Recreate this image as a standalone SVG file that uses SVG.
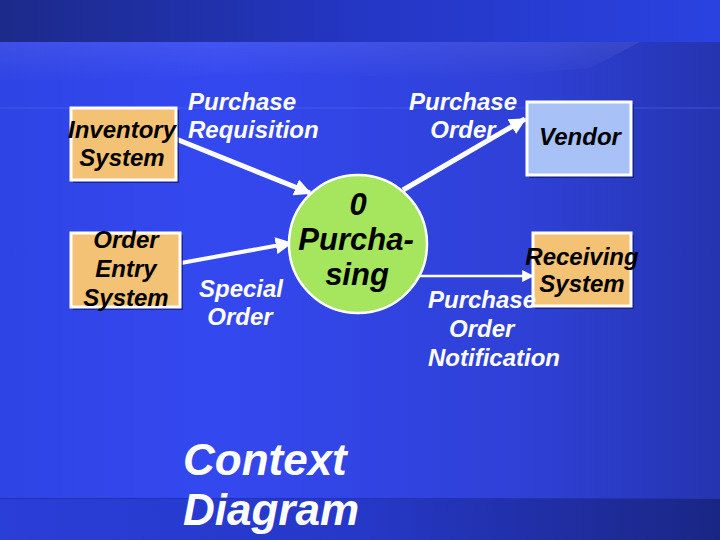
<svg xmlns="http://www.w3.org/2000/svg" width="720" height="540" viewBox="0 0 720 540">
<defs>
<linearGradient id="gTop" x1="0" y1="0" x2="1" y2="0">
<stop offset="0" stop-color="#1c2a8a"/>
<stop offset="0.5" stop-color="#2436c4"/>
<stop offset="1" stop-color="#2a42e0"/>
</linearGradient>
<linearGradient id="gMain" x1="0" y1="0" x2="1" y2="0">
<stop offset="0" stop-color="#2f44e4"/>
<stop offset="0.3" stop-color="#3448f0"/>
<stop offset="0.75" stop-color="#2e40d4"/>
<stop offset="1" stop-color="#2534b0"/>
</linearGradient>
<linearGradient id="gBot" x1="0" y1="0" x2="1" y2="0">
<stop offset="0" stop-color="#2a3ed8"/>
<stop offset="0.5" stop-color="#2638c8"/>
<stop offset="1" stop-color="#1a2684"/>
</linearGradient>
<linearGradient id="gFade" x1="0" y1="0" x2="0" y2="1">
<stop offset="0" stop-color="#ffffff" stop-opacity="0.07"/>
<stop offset="1" stop-color="#ffffff" stop-opacity="0"/>
</linearGradient>
<marker id="ah" viewBox="0 0 10 10" refX="9" refY="5" markerWidth="17" markerHeight="17" markerUnits="userSpaceOnUse" orient="auto">
<path d="M0,0 L10,5 L0,10 Z" fill="#ffffff"/>
</marker>
<marker id="ahs" viewBox="0 0 10 10" refX="9" refY="5" markerWidth="12" markerHeight="12" markerUnits="userSpaceOnUse" orient="auto">
<path d="M0,0 L10,5 L0,10 Z" fill="#ffffff"/>
</marker>
</defs>
<style>
text{font-family:"Liberation Sans",Arial,sans-serif;font-weight:bold;font-style:italic;}
.lbl{fill:#ffffff;font-size:24px;}
.nt{fill:#000000;font-size:24px;text-anchor:middle;}
.pt{fill:#000000;font-size:31px;text-anchor:middle;}
.box{stroke:#ffffff;stroke-width:3;}
.shadow{fill:#10186a;opacity:0.7;}
.org{fill:#f4c274;}
.blu{fill:#a8c2f8;}
.conn{stroke:#ffffff;fill:none;}
.title{fill:#ffffff;font-size:44px;}
.stripe{fill:url(#gFade);}
</style>
<!-- background -->
<rect x="0" y="0" width="720" height="42" fill="url(#gTop)"/>
<rect x="0" y="42" width="720" height="456" fill="url(#gMain)"/>
<rect x="0" y="498" width="720" height="42" fill="url(#gBot)"/>
<line x1="0" y1="498.5" x2="720" y2="498.5" stroke="#2232b0" stroke-width="1"/>
<polygon class="stripe" points="0,42 177,42 100,80 0,80"/>
<polygon class="stripe" points="177,42 350,42 290,72 100,80"/>
<polygon class="stripe" points="350,42 507,42 447,80 290,72"/>
<polygon class="stripe" points="507,42 640,42 590,68 447,80"/>
<line x1="0" y1="108" x2="720" y2="108" stroke="#5a6cf0" stroke-width="1" opacity="0.5"/>

<!-- connectors -->
<g id="connectors">
<line class="conn" x1="176" y1="139" x2="310" y2="193" stroke-width="5" marker-end="url(#ah)"/>
<line class="conn" x1="181" y1="263" x2="291" y2="243" stroke-width="4" marker-end="url(#ah)"/>
<line class="conn" x1="403" y1="190" x2="525" y2="119" stroke-width="5" marker-end="url(#ah)"/>
<line class="conn" x1="414" y1="276" x2="533" y2="276" stroke-width="2.5" marker-end="url(#ahs)"/>
</g>

<!-- nodes -->
<g id="inventory">
<rect class="shadow" x="73" y="110" width="106" height="73"/>
<rect class="box org" x="71" y="108" width="105" height="72"/>
<text class="nt" x="122" y="138">Inventory</text>
<text class="nt" x="122" y="166">System</text>
</g>
<g id="orderentry">
<rect class="shadow" x="73" y="235" width="110" height="75"/>
<rect class="box org" x="71" y="233" width="109" height="74"/>
<text class="nt" x="126" y="248">Order</text>
<text class="nt" x="126" y="277">Entry</text>
<text class="nt" x="126" y="306">System</text>
</g>
<g id="vendor">
<rect class="shadow" x="529" y="104" width="105" height="74"/>
<rect class="box blu" x="527" y="102" width="104" height="73"/>
<text class="nt" x="580" y="145">Vendor</text>
</g>
<g id="receiving">
<rect class="shadow" x="535" y="235" width="99" height="74"/>
<rect class="box org" x="533" y="233" width="98" height="73"/>
<text class="nt" x="582" y="265">Receiving</text>
<text class="nt" x="582" y="292">System</text>
</g>
<g id="purchasing">
<circle cx="358" cy="244" r="69" fill="#a6e65e" stroke="#ffffff" stroke-width="2.5"/>
<text class="pt" x="358" y="215">0</text>
<text class="pt" x="356" y="250">Purcha-</text>
<text class="pt" x="357" y="285">sing</text>
</g>

<!-- labels -->
<g id="labels">
<text class="lbl" x="188" y="110">Purchase</text>
<text class="lbl" x="188" y="138">Requisition</text>
<text class="lbl" x="463" y="110" text-anchor="middle">Purchase</text>
<text class="lbl" x="463" y="138" text-anchor="middle">Order</text>
<text class="lbl" x="241" y="297" text-anchor="middle">Special</text>
<text class="lbl" x="240" y="325" text-anchor="middle">Order</text>
<text class="lbl" x="428" y="308">Purchase</text>
<text class="lbl" x="449" y="337">Order</text>
<text class="lbl" x="428" y="366">Notification</text>
<text class="title" x="183" y="475">Context</text>
<text class="title" x="183" y="525">Diagram</text>
</g>
</svg>
